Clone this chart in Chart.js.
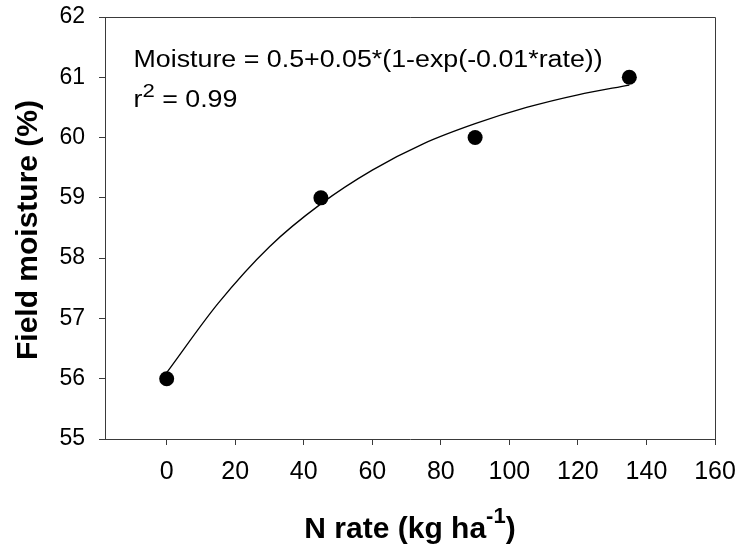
<!DOCTYPE html>
<html>
<head>
<meta charset="utf-8">
<script src="https://cdn.jsdelivr.net/npm/chart.js@4/dist/chart.umd.min.js"></script>
<style>
  html, body { margin: 0; padding: 0; background: #ffffff; }
  #wrap { width: 742px; height: 548px; position: relative; }
</style>
</head>
<body>
<div id="wrap"><canvas id="c" width="742" height="548"></canvas></div>
<script>
// ---- data ----
const rates = [0, 45, 90, 135];
const moisture = [56, 59, 60, 61];
const fitRates = [0, 15, 30, 45, 60, 75, 90, 105, 120, 135];
const fitMoisture = [56.1, 57.25, 58.19, 58.9, 59.46, 59.9, 60.23, 60.5, 60.71, 60.87];
const xTicks = [0, 20, 40, 60, 80, 100, 120, 140, 160];
const yTicks = [55, 56, 57, 58, 59, 60, 61, 62];
const equationText = 'Moisture = 0.5+0.05*(1-exp(-0.01*rate))';
const r2Text = ' = 0.99';
const xTitleMain = 'N rate (kg ha';
const xTitleSup = '-1';
const xTitleEnd = ')';
const yTitle = 'Field moisture (%)';

const AXIS = '#3a3a3a';
const FONT = '"Liberation Sans", Arial, sans-serif';

const annot = {
  id: 'annot',
  afterDraw(chart) {
    const ctx = chart.ctx;
    const a = chart.chartArea;
    ctx.save();
    // frame top and right
    ctx.strokeStyle = AXIS;
    ctx.lineWidth = 1;
    ctx.beginPath();
    ctx.moveTo(a.left, a.top + 0.5);
    ctx.lineTo(a.right + 0.5, a.top + 0.5);
    ctx.lineTo(a.right + 0.5, a.bottom);
    ctx.stroke();

    ctx.fillStyle = '#000';
    ctx.textBaseline = 'alphabetic';
    ctx.textAlign = 'left';
    const sx = 1.165;
    // equation
    ctx.save();
    ctx.translate(133.5, 66.7);
    ctx.scale(sx, 1);
    ctx.font = '23px ' + FONT;
    ctx.fillText(equationText, 0, 0);
    ctx.restore();
    // r^2
    ctx.save();
    ctx.translate(133.5, 106.7);
    ctx.scale(sx, 1);
    ctx.font = '23px ' + FONT;
    ctx.fillText('r', 0, 0);
    let w = ctx.measureText('r').width;
    ctx.font = '19px ' + FONT;
    ctx.fillText('2', w, -10);
    w += ctx.measureText('2').width;
    ctx.font = '23px ' + FONT;
    ctx.fillText(r2Text, w, 0);
    ctx.restore();

    // x title
    const boldMain = 'bold 30px ' + FONT;
    const boldSup = 'bold 22px ' + FONT;
    ctx.font = boldMain;
    const w1 = ctx.measureText(xTitleMain).width;
    const w3 = ctx.measureText(xTitleEnd).width;
    ctx.font = boldSup;
    const w2 = ctx.measureText(xTitleSup).width;
    const total = w1 + w2 + w3;
    const cx = (a.left + a.right) / 2;
    let x0 = cx - total / 2;
    ctx.font = boldMain;
    ctx.fillText(xTitleMain, x0, 538);
    ctx.font = boldSup;
    ctx.fillText(xTitleSup, x0 + w1, 523);
    ctx.font = boldMain;
    ctx.fillText(xTitleEnd, x0 + w1 + w2, 538);

    // y title
    ctx.save();
    ctx.translate(36.5, (a.top + a.bottom) / 2 + 2);
    ctx.rotate(-Math.PI / 2);
    ctx.textAlign = 'center';
    ctx.font = boldMain;
    ctx.fillText(yTitle, 0, 0);
    ctx.restore();

    ctx.restore();
  }
};

new Chart(document.getElementById('c'), {
  type: 'scatter',
  data: {
    datasets: [
      {
        label: 'fit',
        data: fitRates.map((r, i) => ({ x: r, y: fitMoisture[i] })),
        showLine: true,
        borderColor: '#000',
        borderWidth: 1.3,
        pointRadius: 0,
        pointHoverRadius: 0,
        cubicInterpolationMode: 'monotone',
        fill: false,
        order: 2
      },
      {
        label: 'observed',
        data: rates.map((r, i) => ({ x: r, y: moisture[i] })),
        showLine: false,
        pointRadius: 7.5,
        pointHoverRadius: 7.5,
        pointBackgroundColor: '#000',
        pointBorderColor: '#000',
        pointBorderWidth: 0,
        order: 1
      }
    ]
  },
  options: {
    responsive: false,
    animation: false,
    devicePixelRatio: 1,
    layout: { padding: { top: 17, right: 27, left: 0, bottom: 0 } },
    plugins: {
      legend: { display: false },
      tooltip: { enabled: false },
      title: { display: false }
    },
    scales: {
      x: {
        type: 'linear',
        min: -18,
        max: 160,
        afterBuildTicks: s => { s.ticks = xTicks.map(v => ({ value: v })); },
        afterFit: s => { s.height = 109; s.paddingLeft = 0; s.paddingRight = 0; },
        ticks: {
          color: '#000',
          font: { family: FONT, size: 25 },
          padding: 12,
          maxRotation: 0,
          autoSkip: false
        },
        grid: { drawOnChartArea: false, drawTicks: true, tickLength: 6, color: AXIS, tickColor: AXIS, lineWidth: 1 },
        border: { display: true, color: AXIS, width: 1 }
      },
      y: {
        type: 'linear',
        min: 55,
        max: 62,
        afterBuildTicks: s => { s.ticks = yTicks.map(v => ({ value: v })); },
        afterFit: s => { s.width = 105; s.paddingTop = 0; s.paddingBottom = 0; },
        ticks: {
          color: '#000',
          font: { family: FONT, size: 23 },
          padding: 14,
          autoSkip: false
        },
        grid: { drawOnChartArea: false, drawTicks: true, tickLength: 6, color: AXIS, tickColor: AXIS, lineWidth: 1 },
        border: { display: true, color: AXIS, width: 1 }
      }
    }
  },
  plugins: [annot]
});
</script>
</body>
</html>
